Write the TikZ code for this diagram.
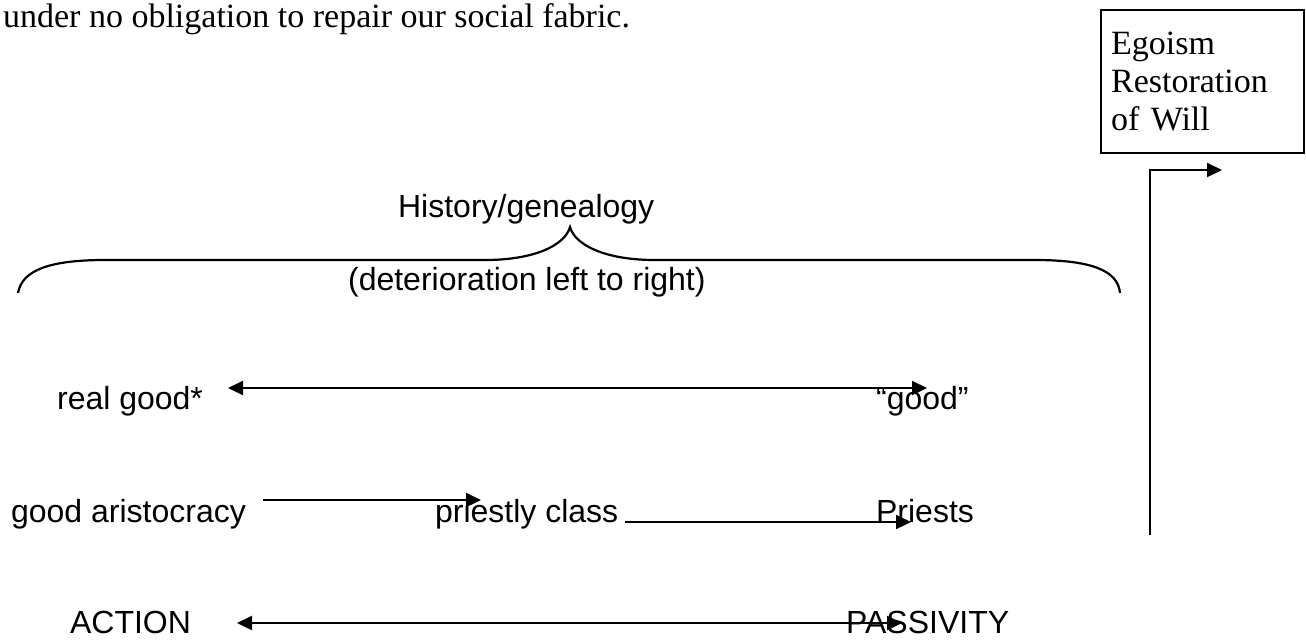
\documentclass[tikz,border=0pt]{standalone}
\usepackage{fontspec}
\setmainfont{Liberation Serif}
\newfontfamily\diagfont{Liberation Sans}
\usetikzlibrary{arrows.meta}

\tikzset{every picture/.style={line width=1.1pt}}
\tikzset{
  lbl/.style={anchor=base west, inner sep=0pt, font=\diagfont\fontsize{16}{19}\selectfont},
  arr/.style={-{Triangle[length=7.5pt,width=7pt]}},
  dblarr/.style={{Triangle[length=7.5pt,width=7pt]}-{Triangle[length=7.5pt,width=7pt]}},
}

\begin{document}
\begin{tikzpicture}[x=0.5pt,y=0.5pt,yscale=-1,xscale=1]
\useasboundingbox (0,0) rectangle (1306,639);

% Text Node
\node[anchor=base west, inner sep=0pt, font=\fontsize{17}{20}\selectfont] (intro) at (2,27) {under no obligation to repair our social fabric.};

% Box
\node[draw, anchor=north west, text width=91.5pt, inner xsep=5pt, minimum height=71.5pt, align=left, font=\fontsize{17}{19}\selectfont] (ego) at (1100,9) {Egoism\\Restoration\\of Will};

% Elbow arrow
\coordinate (ebase) at (1150,535);
\coordinate (etip) at (1222,170);
\draw[arr] (ebase) |- (etip);

% Brace
\draw (18,293) .. controls (22,270) and (50,260) .. (105,260) -- (485,260) .. controls (535,260) and (565,245) .. (570,227) .. controls (575,245) and (605,260) .. (655,260) -- (1035,260) .. controls (1090,260) and (1118,270) .. (1120,293);

% Text Node
\node[lbl] (hist) at (397,217) {History/genealogy};
% Text Node
\node[lbl] (detr) at (347,290) {(deterioration left to right)};
% Text Node
\node[lbl] (realgood) at (56,409) {real good*};
% Text Node
\node[lbl] (quotegood) at (875,409) {“good”};
% Text Node
\node[lbl] (aristo) at (10,522) {good aristocracy};
% Text Node
\node[lbl] (priestly) at (434,522) {priestly class};
% Text Node
\node[lbl] (priests) at (875,522) {Priests};
% Text Node
\node[lbl] (action) at (69,633) {ACTION};
% Text Node
\node[lbl] (passive) at (845,633) {PASSIVITY};

% Arrows
\coordinate (g1) at (228,388);
\coordinate (g2) at (927,388);
\draw[dblarr] (g1) -- (g2);
\coordinate (c1) at (263,500);
\coordinate (c2) at (481,500);
\draw[arr] (c1) -- (c2);
\coordinate (p1) at (625,522);
\coordinate (p2) at (911,522);
\draw[arr] (p1) -- (p2);
\coordinate (a1) at (237,623);
\coordinate (a2) at (902,623);
\draw[dblarr] (a1) -- (a2);

\end{tikzpicture}
\end{document}
